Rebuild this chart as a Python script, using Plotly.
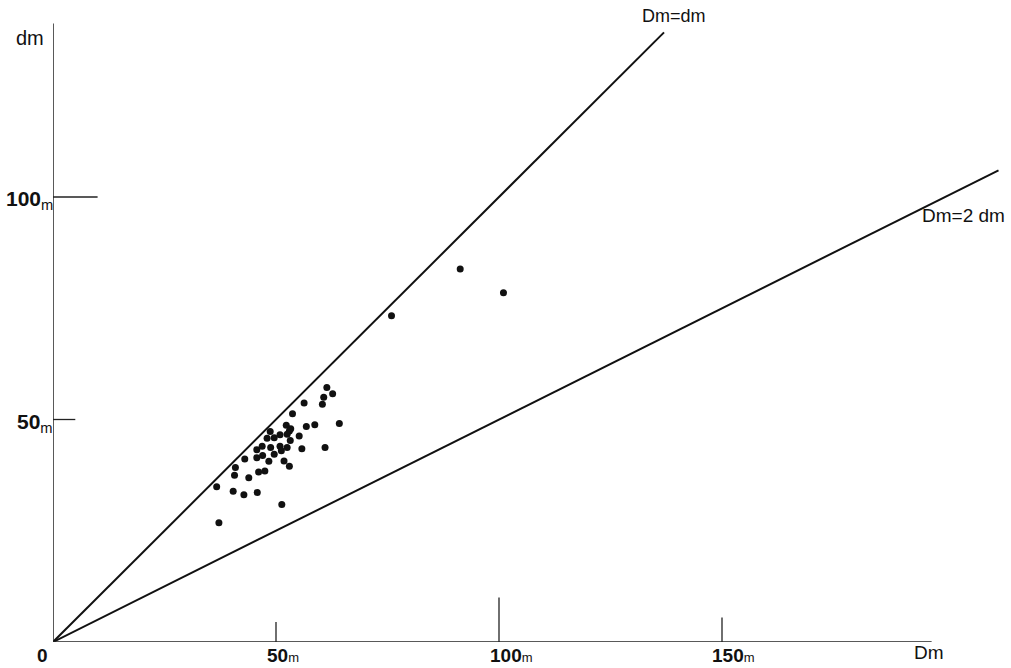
import plotly.graph_objects as go

# Data (Dm in m on x, dm in m on y)
Dm = [61.4, 62.7, 60.7, 60.4, 56.3, 53.7, 64.2, 58.7, 56.8, 52.3, 53.3, 53.0, 48.7, 50.9,
      52.5, 49.6, 48.0, 55.2, 53.2, 45.7, 46.9, 48.8, 50.9, 52.5, 51.2, 55.8, 45.7, 47.0,
      49.6, 48.4, 51.8, 53.0, 61.0, 43.0, 40.9, 40.7, 43.9, 46.1, 47.5, 36.7, 40.4, 42.8,
      45.8, 51.3, 37.2, 75.9, 91.3, 101.0]
dm = [57.2, 55.8, 55.0, 53.4, 53.7, 51.3, 49.1, 48.8, 48.4, 48.7, 47.9, 47.4, 47.3, 46.6,
      46.7, 45.9, 45.8, 46.3, 45.3, 43.2, 44.0, 43.7, 44.0, 43.7, 43.0, 43.4, 41.4, 41.9,
      42.2, 40.6, 40.7, 39.5, 43.7, 41.1, 39.2, 37.5, 36.9, 38.2, 38.4, 34.9, 33.9, 33.1,
      33.6, 30.9, 26.8, 73.3, 83.8, 78.5]

x_ticks = [50, 100, 150]
x_tick_len = [4.5, 10, 5.5]
y_ticks = [50, 100]
y_tick_len = [5, 10]
x_axis_end = 197
y_axis_end = 139
line1_end = 137      # Dm = dm
line2_end = 212      # Dm = 2 dm

X_MAX = (1011 - 53) / 4.46
Y_MAX = 642 / 4.45

fig = go.Figure()

# reference lines
fig.add_trace(go.Scatter(x=[0, line1_end], y=[0, line1_end], mode="lines",
                         line=dict(color="#111", width=2), hoverinfo="skip", showlegend=False))
fig.add_trace(go.Scatter(x=[0, line2_end], y=[0, line2_end / 2], mode="lines",
                         line=dict(color="#111", width=2), hoverinfo="skip", showlegend=False))

# points
fig.add_trace(go.Scatter(x=Dm, y=dm, mode="markers",
                         marker=dict(color="#111", size=7), showlegend=False))

shapes = []
# axes
shapes.append(dict(type="line", x0=0, y0=0, x1=x_axis_end, y1=0, line=dict(color="#222", width=1.5)))
shapes.append(dict(type="line", x0=0, y0=0, x1=0, y1=y_axis_end, line=dict(color="#222", width=1.5)))
for t, l in zip(x_ticks, x_tick_len):
    shapes.append(dict(type="line", x0=t, y0=0, x1=t, y1=l, line=dict(color="#222", width=1.3)))
for t, l in zip(y_ticks, y_tick_len):
    shapes.append(dict(type="line", x0=0, y0=t, x1=l, y1=t, line=dict(color="#222", width=1.3)))

FONT = "Liberation Sans, Arial, sans-serif"
NUM = 21
XNUM = 19
annotations = []
annotations.append(dict(x=0, y=0, text="<b>0</b>", showarrow=False, xanchor="center",
                        yanchor="middle", xshift=-11, yshift=-13, borderpad=0,
                        font=dict(family=FONT, size=XNUM, color="#111")))
for t, sh in zip(x_ticks, [7, 12, 11]):
    annotations.append(dict(x=t, y=0, text=f"<b>{t}</b><span style='font-size:13px'>m</span>",
                            showarrow=False, xanchor="center", yanchor="middle", borderpad=0,
                            xshift=sh, yshift=-13, font=dict(family=FONT, size=XNUM, color="#111")))
annotations.append(dict(x=x_axis_end - 1, y=0, text="Dm", showarrow=False, xanchor="center",
                        yanchor="middle", xshift=2, yshift=-10, borderpad=0,
                        font=dict(family=FONT, size=19, color="#111")))
for t in y_ticks:
    annotations.append(dict(x=0, y=t, text=f"<b>{t}</b><sub>m</sub>", showarrow=False,
                            xanchor="right", yanchor="middle", xshift=2, yshift=-3,
                            font=dict(family=FONT, size=NUM, color="#111")))
annotations.append(dict(x=0, y=135.7, text="dm", showarrow=False, xanchor="right",
                        yanchor="middle", xshift=-7,
                        font=dict(family=FONT, size=20, color="#111")))
annotations.append(dict(x=line1_end, y=line1_end, text="Dm=dm", showarrow=False,
                        xanchor="center", yanchor="middle", xshift=10, yshift=16,
                        font=dict(family=FONT, size=18, color="#111")))
annotations.append(dict(x=line2_end, y=line2_end / 2, text="Dm=2 dm", showarrow=False,
                        xanchor="right", yanchor="middle", xshift=8, yshift=-45,
                        font=dict(family=FONT, size=19, color="#111")))

fig.update_layout(
    width=1011, height=668,
    margin=dict(l=53, r=0, t=0, b=26),
    paper_bgcolor="white", plot_bgcolor="white",
    xaxis=dict(range=[0, X_MAX], showgrid=False, zeroline=False, showticklabels=False,
               showline=False, ticks=""),
    yaxis=dict(range=[0, Y_MAX], showgrid=False, zeroline=False, showticklabels=False,
               showline=False, ticks=""),
    shapes=shapes, annotations=annotations,
)

fig.write_html("out.html")
